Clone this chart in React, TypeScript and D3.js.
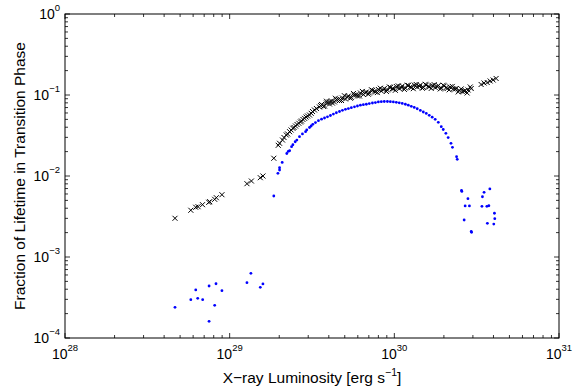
import React from "react";
import * as d3 from "d3";

// values, stored as log10 (luminosity in erg/s, fraction)
const crossLogL = [
  28.668, 28.764, 28.794, 28.808, 28.835, 28.873, 28.879, 28.909, 28.919, 28.953,
  29.105, 29.132, 29.186, 29.202, 29.268, 29.295, 29.303, 29.321, 29.344, 29.352,
  29.364, 29.384, 29.4, 29.42, 29.436, 29.455, 29.473, 29.495, 29.515,
  29.33, 29.373, 29.391, 29.409, 29.43, 29.445, 29.464, 29.485, 29.503, 29.527,
  29.545, 29.558, 29.576, 29.588, 29.606, 29.618, 29.636, 29.648, 29.667, 29.685,
  29.703, 29.721, 29.739, 29.758, 29.776, 29.794, 29.812, 29.83, 29.848, 29.867,
  29.885, 29.903, 29.921, 29.939, 29.958, 29.976, 29.994, 30.012, 30.03, 30.048,
  30.067, 30.085, 30.103, 30.121, 30.139, 30.158, 30.176, 30.194, 30.212, 30.23,
  30.248, 30.267, 30.285, 30.303, 30.321, 30.339, 30.358, 30.376, 30.394, 30.412,
  30.43, 30.448, 30.467, 30.527, 30.545, 30.564, 30.582, 30.6, 30.618,
  29.552, 29.57, 29.588, 29.606, 29.624, 29.642, 29.661, 29.679, 29.697, 29.715,
  29.733, 29.752, 29.77, 29.788, 29.806, 29.824, 29.842, 29.861, 29.879, 29.897,
  29.915, 29.933, 29.952, 29.97, 29.988, 30.006, 30.024, 30.042, 30.061, 30.079,
  30.097, 30.115, 30.133, 30.152, 30.17, 30.188, 30.206, 30.224, 30.242, 30.261,
  30.279, 30.297, 30.315, 30.333, 30.352, 30.37, 30.388, 30.406, 30.424, 30.442,
  30.461,
];
const crossLogF = [
  -2.522, -2.423, -2.386, -2.379, -2.354, -2.325, -2.317, -2.288, -2.268, -2.231,
  -2.095, -2.062, -2.021, -2.0, -1.781, -1.621, -1.596, -1.556, -1.494, -1.481,
  -1.453, -1.411, -1.383, -1.349, -1.321, -1.288, -1.259, -1.226, -1.185,
  -1.525, -1.432, -1.401, -1.364, -1.333, -1.302, -1.272, -1.247, -1.204, -1.167,
  -1.148, -1.117, -1.136, -1.099, -1.111, -1.074, -1.086, -1.056, -1.068, -1.037,
  -1.049, -1.012, -1.031, -1.0, -1.012, -0.975, -0.994, -0.963, -0.975, -0.944,
  -0.963, -0.932, -0.951, -0.92, -0.938, -0.907, -0.926, -0.895, -0.92, -0.889,
  -0.914, -0.883, -0.907, -0.877, -0.901, -0.877, -0.907, -0.877, -0.901, -0.883,
  -0.907, -0.883, -0.914, -0.889, -0.92, -0.901, -0.926, -0.92, -0.944, -0.957,
  -0.944, -0.938, -0.92, -0.87, -0.852, -0.846, -0.827, -0.815, -0.796,
  -1.131, -1.141, -1.077, -1.086, -1.1, -1.04, -1.053, -1.068, -1.009, -1.025,
  -1.04, -0.981, -0.997, -1.012, -0.956, -0.973, -0.99, -0.935, -0.953, -0.97,
  -0.916, -0.936, -0.956, -0.901, -0.921, -0.942, -0.888, -0.909, -0.931, -0.879,
  -0.9, -0.922, -0.87, -0.893, -0.917, -0.868, -0.893, -0.919, -0.872, -0.898,
  -0.925, -0.879, -0.907, -0.936, -0.894, -0.927, -0.962, -0.925, -0.953, -0.975,
  -0.901,
];

const dotLogL = [
  // low scatter
  28.668, 28.764, 28.794, 28.806, 28.836, 28.875, 28.875, 28.909, 28.917, 28.953,
  29.105, 29.129, 29.186, 29.202,
  // rising branch
  29.268, 29.293, 29.303, 29.303, 29.319, 29.347, 29.356, 29.364, 29.376, 29.384,
  29.398, 29.408, 29.424, 29.442, 29.461, 29.468, 29.485, 29.495, 29.505,
  29.521, 29.539, 29.558, 29.576, 29.594, 29.612, 29.63, 29.648, 29.667, 29.685,
  29.703, 29.721, 29.739, 29.758, 29.776, 29.794, 29.812, 29.83, 29.848, 29.867,
  29.885, 29.903, 29.921, 29.939, 29.958, 29.976, 29.994, 30.012, 30.03, 30.048,
  30.067, 30.085, 30.103, 30.121, 30.139, 30.158, 30.176, 30.194, 30.212, 30.23,
  30.248, 30.267, 30.285, 30.297, 30.313, 30.327, 30.344, 30.353, 30.378, 30.382,
  // high scatter
  30.408, 30.41, 30.447, 30.43, 30.456, 30.424, 30.467, 30.469, 30.545, 30.58,
  30.535, 30.532, 30.562, 30.574, 30.608, 30.61, 30.565, 30.604,
];
const dotLogF = [
  -3.621, -3.527, -3.407, -3.51, -3.527, -3.358, -3.794, -3.596, -3.33, -3.416,
  -3.317, -3.201, -3.374, -3.333,
  -2.247, -1.967, -1.926, -1.898, -1.833, -1.722, -1.695, -1.688, -1.638, -1.614,
  -1.577, -1.556, -1.515, -1.481, -1.453, -1.432, -1.401, -1.383, -1.362,
  -1.34, -1.317, -1.299, -1.284, -1.269, -1.253, -1.236, -1.219, -1.204, -1.189,
  -1.177, -1.167, -1.156, -1.146, -1.136, -1.126, -1.119, -1.114, -1.106, -1.099,
  -1.093, -1.086, -1.083, -1.08, -1.08, -1.083, -1.086, -1.09, -1.096, -1.104,
  -1.114, -1.126, -1.14, -1.154, -1.17, -1.19, -1.21, -1.228, -1.251, -1.274,
  -1.3, -1.337, -1.391, -1.426, -1.473, -1.525, -1.596, -1.646, -1.762, -1.794,
  -2.179, -2.19, -2.28, -2.37, -2.37, -2.543, -2.685, -2.695, -2.201, -2.16,
  -2.256, -2.374, -2.374, -2.367, -2.46, -2.527, -2.584, -2.593,
];

const xTickExps = [28, 29, 30, 31];
const yTickExps = [-4, -3, -2, -1, 0];

const W = 579;
const H = 389;
const margin = { top: 14, right: 20, bottom: 51, left: 65 };
const font = "'Liberation Sans', Arial, Helvetica, sans-serif";

const App: React.FC = () => {
  const iw = W - margin.left - margin.right;
  const ih = H - margin.top - margin.bottom;

  const x = d3.scaleLog().domain([1e28, 1e31]).range([0, iw]);
  const y = d3.scaleLog().domain([1e-4, 1]).range([ih, 0]);

  const xMinor = x.ticks().filter((v) => !xTickExps.some((e) => Math.abs(Math.log10(v) - e) < 1e-6));
  const yMinor = y.ticks().filter((v) => !yTickExps.some((e) => Math.abs(Math.log10(v) - e) < 1e-6));

  const major = 5;
  const minor = 3;

  return (
    <div style={{ position: "absolute", left: 0, top: 0 }}>
      <svg width={W} height={H} style={{ display: "block", background: "#fff" }}>
        <g transform={`translate(${margin.left},${margin.top})`}>
          {/* blue dots */}
          {dotLogL.map((l, i) => (
            <circle key={"d" + i} cx={x(10 ** l)} cy={y(10 ** dotLogF[i])} r={1.4} fill="#0000ff" />
          ))}
          {/* crosses */}
          {crossLogL.map((l, i) => (
            <path
              key={"c" + i}
              transform={`translate(${x(10 ** l)},${y(10 ** crossLogF[i])})`}
              d="M-2.5,-2.5L2.5,2.5M-2.5,2.5L2.5,-2.5"
              stroke="#000"
              strokeWidth={1}
              fill="none"
            />
          ))}

          {/* ticks */}
          <g stroke="#000" strokeWidth={0.8}>
            {xTickExps.map((e) => {
              const px = x(10 ** e);
              return (
                <g key={"xt" + e}>
                  <line x1={px} x2={px} y1={ih} y2={ih - major} />
                  <line x1={px} x2={px} y1={0} y2={major} />
                </g>
              );
            })}
            {xMinor.map((v, i) => {
              const px = x(v);
              return (
                <g key={"xm" + i}>
                  <line x1={px} x2={px} y1={ih} y2={ih - minor} />
                  <line x1={px} x2={px} y1={0} y2={minor} />
                </g>
              );
            })}
            {yTickExps.map((e) => {
              const py = y(10 ** e);
              return (
                <g key={"yt" + e}>
                  <line x1={0} x2={major} y1={py} y2={py} />
                  <line x1={iw} x2={iw - major} y1={py} y2={py} />
                </g>
              );
            })}
            {yMinor.map((v, i) => {
              const py = y(v);
              return (
                <g key={"ym" + i}>
                  <line x1={0} x2={minor} y1={py} y2={py} />
                  <line x1={iw} x2={iw - minor} y1={py} y2={py} />
                </g>
              );
            })}
          </g>
          <rect x={0} y={0} width={iw} height={ih} fill="none" stroke="#000" strokeWidth={1} />

          {/* tick labels */}
          <g fontFamily={font} fontSize={14} fill="#000">
            {xTickExps.map((e) => (
              <text key={"xl" + e} x={x(10 ** e)} y={ih + 21} textAnchor="middle">
                10
                <tspan fontSize={9.5} dy={-8}>
                  {e}
                </tspan>
              </text>
            ))}
            {yTickExps.map((e) => (
              <text key={"yl" + e} x={-5} y={y(10 ** e) + 5} textAnchor="end">
                10
                <tspan fontSize={9.5} dy={-8}>
                  {e < 0 ? "\u2212" + Math.abs(e) : e}
                </tspan>
              </text>
            ))}
          </g>

          {/* axis titles */}
          <text x={iw / 2} y={ih + 45} textAnchor="middle" fontFamily={font} fontSize={15.5}>
            X{"\u2212"}ray Luminosity [erg s
            <tspan fontSize={10.5} dy={-7}>
              {"\u2212"}1
            </tspan>
            <tspan dy={7}>]</tspan>
          </text>
          <text
            transform={`translate(${-40},${ih / 2}) rotate(-90)`}
            textAnchor="middle"
            fontFamily={font}
            fontSize={15.5}
          >
            Fraction of Lifetime in Transition Phase
          </text>
        </g>
      </svg>
    </div>
  );
};

export default App;
